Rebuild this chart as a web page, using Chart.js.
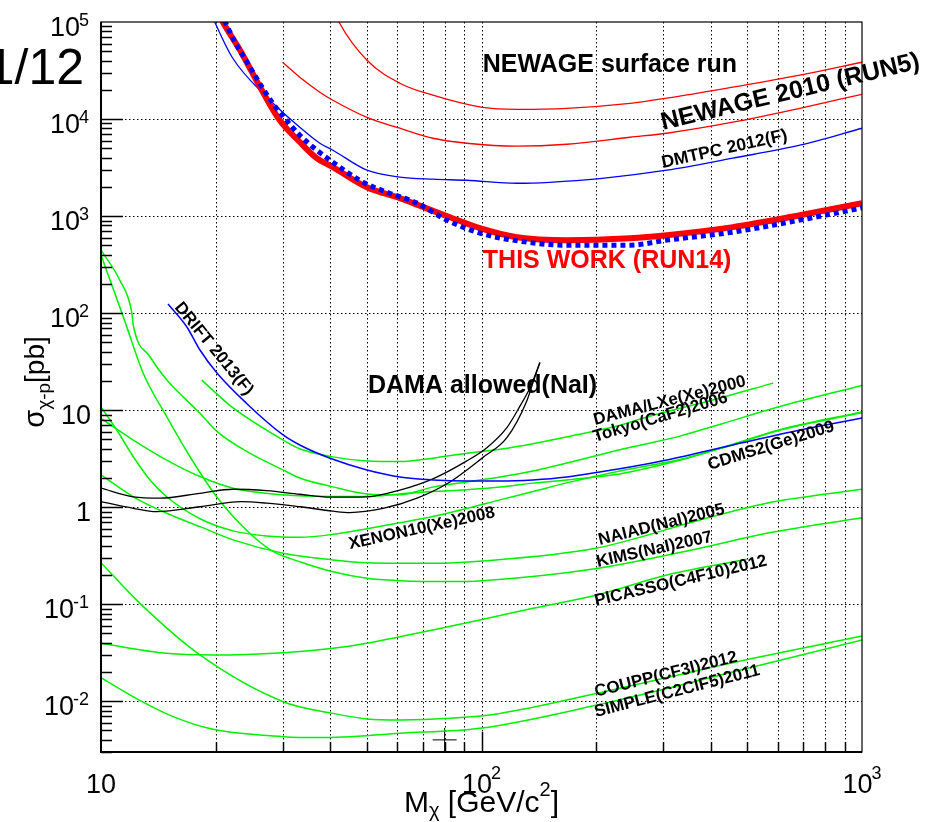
<!DOCTYPE html>
<html>
<head>
<meta charset="utf-8">
<script src="https://cdn.jsdelivr.net/npm/chart.js@4.4.0/dist/chart.umd.min.js"></script>
<style>
  html, body { margin: 0; padding: 0; background: #fff; }
  canvas { display: block; }
</style>
</head>
<body>
<canvas id="limitChart" width="944" height="822"></canvas>
<script>
// SD-proton cross section limits, mass in GeV/c^2, sigma in pb

// this work (RUN14), thick red
const thisWorkM = [20.3, 20.9, 23.2, 26.2, 29.5, 33.3, 36.9, 40.7, 50, 61, 70.2, 82.6, 99, 123.9, 167.6, 245.5, 306.9, 457.6, 686.5, 1000];
const thisWorkS = [125000, 100000, 51100, 21300, 9700, 5800, 3950, 3190, 1980, 1530, 1240, 974, 751, 606, 565, 592, 636, 769, 1020, 1360];

// blue dotted companion curve
const dottedM = [20.6, 21.2, 22.5, 24.2, 26.5, 28.3, 30.4, 32.9, 36.1, 40, 48.8, 57.4, 67.7, 81.1, 99, 120.9, 167.6, 245.5, 306.9, 457.6, 686.5, 1000];
const dottedS = [125000, 100000, 61800, 38500, 21300, 14500, 10200, 7140, 5120, 3770, 2240, 1720, 1360, 908, 667, 565, 501, 501, 565, 683, 908, 1210];

// NEWAGE surface run / NEWAGE 2010 (RUN5)
const surfaceM = [41, 42.2, 50, 61, 74.5, 100.5, 123.9, 167.6, 245.5, 306.9, 457.6, 686.5, 1000];
const surfaceS = [130000, 100000, 40300, 23400, 17600, 13200, 12600, 12900, 14500, 16400, 21300, 28300, 38500];
const run5M = [30, 33.3, 37.6, 40.7, 50, 61, 74.5, 91.5, 123.9, 167.6, 245.5, 306.9, 457.6, 686.5, 1000];
const run5S = [38500, 26950, 18900, 15600, 10400, 8040, 6340, 5630, 5250, 5500, 6490, 7140, 9270, 12900, 18000];

// DMTPC 2012(F) and DRIFT 2013(F)
const dmtpcM = [19.5, 19.9, 22.2, 27.3, 33.3, 37.6, 40.7, 50, 61, 74.5, 91.5, 123.9, 151.2, 204.7, 306.9, 457.6, 686.5, 1000];
const dmtpcS = [120000, 100000, 42300, 16800, 8230, 5630, 4770, 2970, 2520, 2400, 2340, 2180, 2230, 2430, 2970, 3950, 5370, 8040];
const driftM = [15, 16.8, 18.2, 20.2, 24.1, 30.1, 33.3, 40, 50, 61, 74.5, 91.5, 111.8, 136.5, 167.6, 245.5, 306.9, 457.6, 686.5, 1000];
const driftS = [124, 72.4, 41.7, 24, 11.8, 5.55, 4.37, 3.19, 2.42, 2.05, 1.91, 1.86, 1.86, 1.91, 2.05, 2.59, 3.06, 4.37, 6.24, 8.29];

// DAMA allowed region (NaI), upper and lower edges
const damaUpM = [10, 12.16, 14.29, 18.2, 22.25, 27.25, 33.3, 40, 50, 61, 74.5, 91.5, 103.3, 116.6, 126.2, 134.1, 142.4];
const damaUpS = [1.57, 1.28, 1.24, 1.39, 1.53, 1.48, 1.36, 1.27, 1.28, 1.5, 1.96, 3.0, 4.1, 6.6, 11, 17, 31];
const damaLoM = [10, 12.16, 14, 18.2, 23.3, 27.25, 33.3, 40.7, 45.1, 55.1, 67.7, 82.6, 100.9, 116.6, 131.6, 137, 142.4];
const damaLoS = [1.14, 0.974, 0.9, 1.01, 1.14, 1.1, 1.01, 0.91, 0.88, 0.97, 1.24, 1.82, 3.26, 5.2, 12.5, 20, 31];

// green limits
const dlxeM = [18.4, 22.2, 30.1, 33.3, 40.7, 50, 61, 74.5, 91.5, 111.8, 136.5, 167.6, 231, 272, 405, 584];
const dlxeS = [20.4, 10.6, 4.92, 4.0, 3.3, 2.99, 2.95, 3.2, 3.6, 3.95, 4.5, 5.3, 7.0, 8.5, 12.7, 19.0];
const tokyoM = [10, 11.2, 12.04, 12.16, 13.45, 14.9, 18.2, 20.2, 24.6, 30.1, 33.3, 40.7, 50, 61, 74.5, 91.5, 111.8, 136.5, 167.6, 231, 272, 332, 431, 608, 1000];
const tokyoS = [446, 219, 103, 75, 35.5, 20.4, 9.3, 6.0, 3.6, 2.42, 2.0, 1.62, 1.37, 1.34, 1.61, 1.82, 2.05, 2.36, 2.85, 3.9, 4.5, 5.4, 7.3, 10.9, 18];
const cdmsM = [10, 12.16, 14.88, 18.2, 22.25, 30.1, 40, 50, 61, 74.5, 91.5, 111.8, 136.5, 167.6, 231, 245.5, 332, 449.5, 608, 1000];
const cdmsS = [8.25, 4.92, 3.06, 2.07, 1.57, 1.34, 1.29, 1.29, 1.37, 1.45, 1.51, 1.61, 1.77, 1.91, 2.2, 2.3, 3.05, 4.3, 6.2, 9.4];
const xenonM = [10, 11.0, 12.16, 13.45, 14.88, 18.2, 22.25, 27.25, 33.3, 40.7, 50, 61, 74.5, 91.5, 111.8, 136.5, 167.6, 231, 332, 449.5, 608, 1000];
const xenonS = [10.8, 6.24, 3.31, 1.91, 1.28, 0.76, 0.57, 0.505, 0.49, 0.525, 0.6, 0.69, 0.8, 0.97, 1.19, 1.45, 1.78, 2.36, 3.1, 4.35, 6.3, 9.6];
const naiadM = [10, 12.16, 14.88, 18.2, 22.25, 30.1, 40.7, 50, 74.5, 100.5, 201, 375, 561, 1000];
const naiadS = [2.15, 1.28, 0.865, 0.63, 0.46, 0.335, 0.286, 0.268, 0.264, 0.279, 0.38, 0.738, 1.1, 1.53];
const kimsM = [10, 11.44, 12.91, 14.88, 17.14, 20.13, 24.6, 28.4, 33.3, 40.7, 50, 61, 82.6, 100.5, 201, 375, 561, 1000];
const kimsS = [397, 92, 24, 8.56, 3.31, 1.28, 0.538, 0.348, 0.274, 0.216, 0.185, 0.175, 0.171, 0.175, 0.234, 0.377, 0.538, 0.78];
const picassoM = [10, 14.88, 19.7, 30.1, 40.7, 50, 61, 74.5, 99, 136.5, 201, 307, 498];
const picassoS = [0.0396, 0.0312, 0.03, 0.0317, 0.0351, 0.0396, 0.0463, 0.0543, 0.0688, 0.0908, 0.1245, 0.2, 0.29];
const couppM = [10, 12.66, 18.2, 30.1, 40.7, 50, 61, 82.6, 111.8, 200, 483, 1000];
const couppS = [0.268, 0.102, 0.03, 0.0099, 0.0075, 0.00657, 0.0064, 0.00667, 0.0075, 0.012, 0.0262, 0.047];
const simpleM = [10, 12.16, 15.48, 19.7, 30.1, 37.6, 61, 99, 200, 480, 1000];
const simpleS = [0.0175, 0.0111, 0.00694, 0.00514, 0.00432, 0.00422, 0.00468, 0.00526, 0.0091, 0.021, 0.0428];

// stray marker near the bottom axis
const markerM = [80];
const markerS = [0.004];

// axis ticks
const xTickValues = [10, 100, 1000];
const xTickBase = ['10', '10', '10'];
const xTickExp = ['', '2', '3'];
const yTickValues = [1e5, 1e4, 1e3, 1e2, 10, 1, 0.1, 0.01];
const yTickBase = ['10', '10', '10', '10', '10', '1', '10', '10'];
const yTickExp = ['5', '4', '3', '2', '', '', '-1', '-2'];

// curve labels (anchored at baseline start, in data coords)
const notes = [
  { text: 'NEWAGE surface run', m: 100.8, s: 30550, angle: 0, size: 25, color: '#000' },
  { text: 'NEWAGE 2010 (RUN5)', m: 299.7, s: 7709, angle: -13.5, size: 25, color: '#000' },
  { text: 'DMTPC 2012(F)', m: 299.7, s: 3130, angle: -12.6, size: 17.5, color: '#000' },
  { text: 'THIS WORK (RUN14)', m: 100.8, s: 291.7, angle: 0, size: 25, color: '#ff0000' },
  { text: 'DAMA allowed(NaI)', m: 50.3, s: 15.0, angle: 0, size: 25, color: '#000' },
  { text: 'DRIFT 2013(F)', m: 15.55, s: 114, angle: 50.7, size: 17, color: '#000' },
  { text: 'DAMA/LXe(Xe)2000', m: 198.6, s: 7.03, angle: -14.5, size: 17, color: '#000' },
  { text: 'Tokyo(CaF2)2006', m: 198.6, s: 4.7, angle: -16.7, size: 17, color: '#000' },
  { text: 'CDMS2(Ge)2009', m: 398.2, s: 2.42, angle: -17.4, size: 17, color: '#000' },
  { text: 'XENON10(Xe)2008', m: 45.1, s: 0.37, angle: -12.4, size: 17, color: '#000' },
  { text: 'NAIAD(NaI)2005', m: 204.6, s: 0.408, angle: -14, size: 17, color: '#000' },
  { text: 'KIMS(NaI)2007', m: 202, s: 0.242, angle: -12.5, size: 17, color: '#000' },
  { text: 'PICASSO(C4F10)2012', m: 199.8, s: 0.096, angle: -13.3, size: 17, color: '#000' },
  { text: 'COUPP(CF3I)2012', m: 200, s: 0.0111, angle: -14, size: 17, color: '#000' },
  { text: 'SIMPLE(C2ClF5)2011', m: 200, s: 0.00689, angle: -14.4, size: 17, color: '#000' }
];

const FONT = '"Liberation Sans", Arial, Helvetica, sans-serif';
const RED = '#ff0000', BLUE = '#0000ff', GREEN = '#00f000', BLACK = '#000000';

function curve(ms, ss, color, width, dash) {
  return {
    data: ms.map((m, i) => ({ x: m, y: ss[i] })),
    borderColor: color,
    borderWidth: width,
    borderDash: dash || [],
    pointRadius: 0,
    fill: false,
    clip: 0
  };
}

// first in list is drawn on top
const datasets = [
  curve(dottedM, dottedS, BLUE, 5, [5, 4]),
  curve(thisWorkM, thisWorkS, RED, 6),
  curve(surfaceM, surfaceS, RED, 1.3),
  curve(run5M, run5S, RED, 1.3),
  curve(dmtpcM, dmtpcS, BLUE, 1.3),
  curve(driftM, driftS, BLUE, 1.5),
  curve(damaUpM, damaUpS, BLACK, 1.3),
  curve(damaLoM, damaLoS, BLACK, 1.3),
  curve(dlxeM, dlxeS, GREEN, 1.5),
  curve(tokyoM, tokyoS, GREEN, 1.5),
  curve(cdmsM, cdmsS, GREEN, 1.5),
  curve(xenonM, xenonS, GREEN, 1.5),
  curve(naiadM, naiadS, GREEN, 1.5),
  curve(kimsM, kimsS, GREEN, 1.5),
  curve(picassoM, picassoS, GREEN, 1.5),
  curve(couppM, couppS, GREEN, 1.5),
  curve(simpleM, simpleS, GREEN, 1.5),
  {
    data: markerM.map((m, i) => ({ x: m, y: markerS[i] })),
    showLine: false,
    pointStyle: 'cross',
    pointRadius: 12,
    borderColor: BLACK,
    borderWidth: 1,
    clip: false
  }
];

// draw a run of text pieces: [text, size, yShift]
function richWidth(ctx, parts) {
  let w = 0;
  parts.forEach(p => { ctx.font = p[1] + 'px ' + FONT; w += ctx.measureText(p[0]).width; });
  return w;
}
function drawRich(ctx, parts, x0, y0) {
  let cx = x0;
  parts.forEach(p => {
    ctx.font = p[1] + 'px ' + FONT;
    ctx.fillText(p[0], cx, y0 + p[2]);
    cx += ctx.measureText(p[0]).width;
  });
}

const rootStyle = {
  id: 'rootStyle',
  beforeDatasetsDraw(chart) {
    const { ctx, chartArea: a, scales: { x, y } } = chart;
    ctx.save();
    ctx.strokeStyle = '#000';
    ctx.lineWidth = 1;
    ctx.setLineDash([1.5, 2.5]);
    ctx.beginPath();
    for (let d = 10; d < 1000; d *= 10) {
      for (let k = 1; k < 10; k++) {
        const v = k * d;
        if (v <= 10) continue;
        const px = Math.round(x.getPixelForValue(v)) + 0.5;
        ctx.moveTo(px, a.top);
        ctx.lineTo(px, a.bottom);
      }
    }
    for (let e = -2; e <= 4; e++) {
      const py = Math.round(y.getPixelForValue(Math.pow(10, e))) + 0.5;
      ctx.moveTo(a.left, py);
      ctx.lineTo(a.right, py);
    }
    ctx.stroke();
    ctx.restore();
  },
  afterDatasetsDraw(chart) {
    const { ctx, chartArea: a, scales: { x, y } } = chart;
    ctx.save();
    ctx.setLineDash([]);
    ctx.strokeStyle = '#000';
    ctx.fillStyle = '#000';

    // tick marks, drawn inside the frame
    ctx.lineWidth = 1.5;
    ctx.beginPath();
    for (let e = -3; e <= 4; e++) {
      for (let k = 1; k < 10; k++) {
        const v = k * Math.pow(10, e);
        if (v < 0.0029 || v > 99999) continue;
        const py = Math.round(y.getPixelForValue(v)) + 0.5;
        ctx.moveTo(a.left, py);
        ctx.lineTo(a.left + (k === 1 ? 22 : 11), py);
      }
    }
    for (let d = 10; d < 1000; d *= 10) {
      for (let k = 1; k < 10; k++) {
        const v = k * d;
        if (v <= 10) continue;
        const px = Math.round(x.getPixelForValue(v)) + 0.5;
        ctx.moveTo(px, a.bottom);
        ctx.lineTo(px, a.bottom - (k === 1 ? 20 : 10));
      }
    }
    ctx.stroke();

    // frame
    ctx.lineWidth = 1.2;
    ctx.strokeRect(a.left, a.top, a.right - a.left, a.bottom - a.top);
    ctx.lineWidth = 2;
    ctx.beginPath();
    ctx.moveTo(a.left, a.top);
    ctx.lineTo(a.left, a.bottom);
    ctx.lineTo(a.right, a.bottom);
    ctx.stroke();

    // y tick labels
    ctx.textBaseline = 'alphabetic';
    yTickValues.forEach((v, i) => {
      const base = y.getPixelForValue(v) + 14;
      const exp = yTickExp[i];
      ctx.font = '18px ' + FONT;
      const ew = exp ? ctx.measureText(exp).width : 0;
      const right = exp ? 89 : 91;
      ctx.textAlign = 'right';
      ctx.font = '27px ' + FONT;
      ctx.fillText(yTickBase[i], right - ew + (exp ? 1 : 0), base);
      if (exp) {
        ctx.textAlign = 'left';
        ctx.font = '18px ' + FONT;
        ctx.fillText(exp, right - ew, base - 10.5);
      }
    });

    // x tick labels
    ctx.textAlign = 'left';
    xTickValues.forEach((v, i) => {
      const px = x.getPixelForValue(v);
      const exp = xTickExp[i];
      ctx.font = '27px ' + FONT;
      const bw = ctx.measureText(xTickBase[i]).width;
      ctx.font = '18px ' + FONT;
      const ew = exp ? ctx.measureText(exp).width - 1 : 0;
      const left = px - (bw + ew) / 2;
      ctx.font = '27px ' + FONT;
      ctx.fillText(xTickBase[i], left, a.bottom + 41);
      if (exp) {
        ctx.font = '18px ' + FONT;
        ctx.fillText(exp, left + bw - 1, a.bottom + 27);
      }
    });

    // axis titles
    const xTitle = [['M', 30, 0], ['\u03c7', 20, 5], [' [GeV/c', 30, 0], ['2', 20, -16], [']', 30, 0]];
    const xw = richWidth(ctx, xTitle);
    drawRich(ctx, xTitle, x.getPixelForValue(100) - xw / 2, a.bottom + 60);

    const yTitle = [['\u03c3', 29, 0], ['\u03c7-p', 19, 6], ['[pb]', 28, 0]];
    const yw = richWidth(ctx, yTitle);
    ctx.save();
    ctx.translate(44, 382);
    ctx.rotate(-Math.PI / 2);
    drawRich(ctx, yTitle, -yw / 2, 0);
    ctx.restore();

    // curve labels
    notes.forEach(n => {
      ctx.save();
      ctx.translate(x.getPixelForValue(n.m), y.getPixelForValue(n.s));
      ctx.rotate(n.angle * Math.PI / 180);
      ctx.font = 'bold ' + n.size + 'px ' + FONT;
      ctx.fillStyle = n.color;
      ctx.fillText(n.text, 0, 0);
      ctx.restore();
    });

    // page number left over from the slide
    ctx.textAlign = 'right';
    ctx.font = '50px ' + FONT;
    ctx.fillText('1/12', 84, 84);
    ctx.restore();
  }
};

new Chart(document.getElementById('limitChart'), {
  type: 'line',
  data: { datasets: datasets },
  options: {
    responsive: false,
    animation: false,
    devicePixelRatio: 1,
    layout: { padding: { left: 101, right: 82, top: 22, bottom: 70 } },
    plugins: { legend: { display: false }, tooltip: { enabled: false } },
    elements: { line: { cubicInterpolationMode: 'monotone' } },
    scales: {
      x: { type: 'logarithmic', min: 10, max: 1000, display: false },
      y: { type: 'logarithmic', min: 0.003, max: 1e5, display: false }
    }
  },
  plugins: [rootStyle]
});
</script>
</body>
</html>
